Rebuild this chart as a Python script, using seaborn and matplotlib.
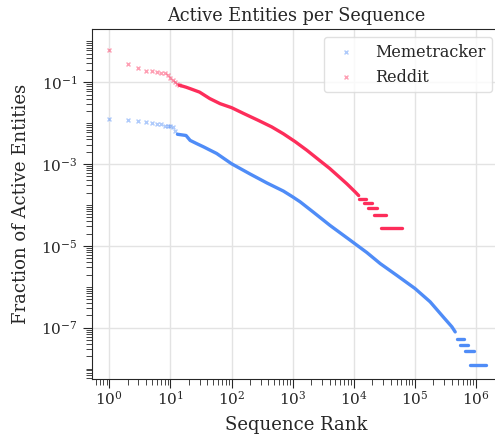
import matplotlib as mpl
mpl.use('Agg')
import matplotlib.pyplot as plt
from matplotlib.ticker import LogLocator, NullFormatter
import numpy as np
import pandas as pd
import seaborn as sns

# early ranks, drawn as single markers
meme_rank = [1, 2, 3, 4, 5, 6, 7, 8, 9, 10, 11, 12]
meme_frac = [0.01245, 0.01175, 0.01114, 0.01072, 0.01012, 0.00955, 0.00955,
             0.00851, 0.00851, 0.00832, 0.00794, 0.00631]
reddit_rank = [1, 2, 3, 4, 5, 6, 7, 8, 9, 10, 11, 12, 13, 14]
reddit_frac = [0.605, 0.280, 0.229, 0.193, 0.193, 0.183, 0.173, 0.173,
               0.155, 0.127, 0.112, 0.100, 0.091, 0.085]

# dense part of each curve (markers overlap into a band)
meme_band_rank = [13, 18, 21, 27, 35, 42, 57, 100, 200, 377, 705, 1000, 1320,
                  2200, 4090, 8710, 16300, 27000, 50600, 100000, 177000,
                  293000, 402000, 455000]
meme_band_frac = [5.37e-3, 5.01e-3, 3.8e-3, 3.16e-3, 2.63e-3, 2.29e-3, 1.82e-3,
                  1.02e-3, 5.75e-4, 3.47e-4, 2.19e-4, 1.58e-4, 1.2e-4, 6.6e-5,
                  3.16e-5, 1.38e-5, 6.9e-6, 3.7e-6, 1.9e-6, 9.1e-7, 4.3e-7,
                  1.8e-7, 1.05e-7, 7.9e-8]
reddit_band_rank = [14, 18, 21, 30, 44, 65, 100, 156, 275, 455, 705, 1094, 1698,
                    2811, 4000, 6000, 7680, 8710, 10500, 12000]
reddit_band_frac = [0.085, 0.076, 0.070, 0.0575, 0.040, 0.030, 0.024, 0.0174,
                    0.0117, 0.0081, 0.0055, 0.00355, 0.00219, 0.0012, 7.9e-4,
                    4.6e-4, 3.3e-4, 2.75e-4, 2.09e-4, 1.7e-4]

# flat tail steps (rank start, rank end, value)
meme_step_start = [485000, 550000, 663000, 800000]
meme_step_end = [622000, 734000, 930000, 1460000]
meme_step_frac = [5.2e-8, 3.8e-8, 2.7e-8, 1.26e-8]
reddit_step_start = [12000, 14500, 17000, 21000, 28000]
reddit_step_end = [16000, 19500, 24000, 33000, 61000]
reddit_step_frac = [1.41e-4, 1.10e-4, 8.5e-5, 5.6e-5, 2.8e-5]

x_ticks = [1e0, 1e1, 1e2, 1e3, 1e4, 1e5, 1e6]
y_ticks = [1e-7, 1e-5, 1e-3, 1e-1]

BLUE = '#4f8cf7'
RED = '#fd2d5a'


def curve_frame(band_rank, band_frac, starts, ends, fracs):
    rows = [(r, f, 0) for r, f in zip(band_rank, band_frac)]
    for i, (x0, x1, f) in enumerate(zip(starts, ends, fracs), 1):
        rows += [(x0, f, i), (x1, f, i)]
    return pd.DataFrame(rows, columns=['rank', 'frac', 'seg'])


def save_graph():
    sns.set_style('ticks')
    plt.rcParams['font.family'] = ['DejaVu Serif']
    plt.rcParams['mathtext.fontset'] = 'dejavuserif'

    fig = plt.figure(figsize=(4.95, 4.34), dpi=100)
    ax = fig.add_axes([0.185, 0.1267, 0.825, 0.8058])

    meme = curve_frame(meme_band_rank, meme_band_frac,
                       meme_step_start, meme_step_end, meme_step_frac)
    reddit = curve_frame(reddit_band_rank, reddit_band_frac,
                         reddit_step_start, reddit_step_end, reddit_step_frac)

    sns.lineplot(data=meme, x='rank', y='frac', units='seg', estimator=None,
                 sort=False, color=BLUE, lw=2.4, ax=ax, legend=False)
    sns.lineplot(data=reddit, x='rank', y='frac', units='seg', estimator=None,
                 sort=False, color=RED, lw=2.4, ax=ax, legend=False)
    sns.scatterplot(x=meme_rank, y=meme_frac, marker='x', s=8, linewidth=1,
                    color=BLUE, alpha=0.45, label='Memetracker', ax=ax)
    sns.scatterplot(x=reddit_rank, y=reddit_frac, marker='x', s=8, linewidth=1,
                    color=RED, alpha=0.45, label='Reddit', ax=ax)

    ax.set_xscale('log')
    ax.set_yscale('log')
    ax.set_xticks(x_ticks)
    ax.set_yticks(y_ticks)
    ax.xaxis.set_minor_locator(LogLocator(base=10, subs=np.arange(2, 10), numticks=100))
    ax.yaxis.set_minor_locator(LogLocator(base=10, subs=np.arange(1, 10), numticks=100))
    ax.xaxis.set_minor_formatter(NullFormatter())
    ax.yaxis.set_minor_formatter(NullFormatter())
    ax.set_xlim(10 ** -0.29, 10 ** 6.39)
    ax.set_ylim(10 ** -8.254, 10 ** 0.296)

    ax.tick_params(which='major', length=6.5, width=0.8, labelsize=11)
    ax.tick_params(which='minor', length=4.3, width=0.6)
    ax.tick_params(axis='x', which='major', pad=1)
    ax.grid(True, which='major', color='#e3e3e3', lw=1)
    ax.set_axisbelow(True)

    ax.set_title('Active Entities per Sequence', fontsize=12.7)
    ax.set_xlabel('Sequence Rank', fontsize=13, labelpad=6)
    ax.set_ylabel('Fraction of Active Entities', fontsize=13, labelpad=8)
    ax.legend(loc='upper right', fontsize=11.5, frameon=True, edgecolor='#d9d9d9')

    fig.savefig('out.png', dpi=100)
    return 'out.png'


if __name__ == "__main__":
    save_graph()
